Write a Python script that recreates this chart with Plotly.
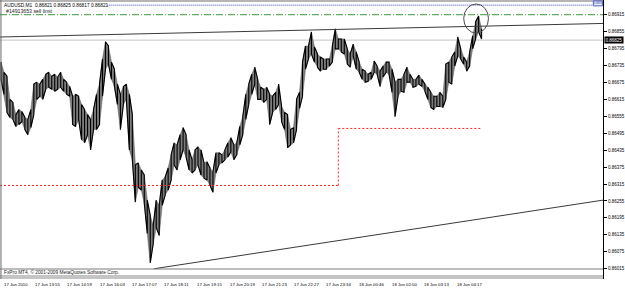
import plotly.graph_objects as go

# ---- price data (AUDUSD M1, sampled bars: high / low) ----
highs = [0.86747, 0.86711, 0.86697, 0.86615, 0.86604, 0.86561, 0.86579, 0.86572, 0.86551, 0.86544,
         0.86579, 0.86669, 0.86676, 0.86669, 0.86686, 0.86704, 0.86711, 0.86697, 0.86704, 0.86694,
         0.86711, 0.86686, 0.86676, 0.86661, 0.86626, 0.86633, 0.86626, 0.86597, 0.86579, 0.86561,
         0.86544, 0.86579, 0.86633, 0.86669, 0.86758, 0.86819, 0.86804, 0.86747, 0.86722, 0.86669,
         0.86633, 0.86661, 0.86669, 0.86633, 0.86561, 0.86383, 0.86390, 0.86365, 0.86347, 0.86258,
         0.86204, 0.86169, 0.86258, 0.86240, 0.86329, 0.86340, 0.86372, 0.86419, 0.86461, 0.86454,
         0.86490, 0.86515, 0.86490, 0.86436, 0.86401, 0.86436, 0.86447, 0.86436, 0.86390, 0.86394,
         0.86372, 0.86358, 0.86426, 0.86426, 0.86419, 0.86436, 0.86461, 0.86479, 0.86454, 0.86461,
         0.86519, 0.86554, 0.86633, 0.86669, 0.86704, 0.86729, 0.86686, 0.86658, 0.86651, 0.86658,
         0.86633, 0.86626, 0.86640, 0.86669, 0.86590, 0.86569, 0.86561, 0.86508, 0.86515, 0.86615,
         0.86640, 0.86747, 0.86804, 0.86804, 0.86854, 0.86801, 0.86776, 0.86765, 0.86758, 0.86758,
         0.86758, 0.86804, 0.86865, 0.86829, 0.86829, 0.86829, 0.86794, 0.86776, 0.86811, 0.86783,
         0.86747, 0.86722, 0.86715, 0.86704, 0.86711, 0.86751, 0.86733, 0.86715, 0.86733, 0.86747,
         0.86747, 0.86722, 0.86676, 0.86686, 0.86686, 0.86704, 0.86729, 0.86704, 0.86686, 0.86686,
         0.86701, 0.86686, 0.86669, 0.86658, 0.86640, 0.86626, 0.86626, 0.86640, 0.86626, 0.86740,
         0.86747, 0.86765, 0.86783, 0.86836, 0.86794, 0.86765, 0.86747, 0.86783, 0.86840, 0.86890,
         0.86910, 0.86865]
lows = [0.86686, 0.86633, 0.86569, 0.86551, 0.86544, 0.86519, 0.86526, 0.86536, 0.86508, 0.86490,
        0.86515, 0.86561, 0.86615, 0.86626, 0.86615, 0.86651, 0.86658, 0.86651, 0.86644, 0.86651,
        0.86658, 0.86644, 0.86633, 0.86626, 0.86526, 0.86519, 0.86544, 0.86472, 0.86461, 0.86490,
        0.86436, 0.86508, 0.86508, 0.86526, 0.86626, 0.86722, 0.86740, 0.86686, 0.86661, 0.86597,
        0.86508, 0.86597, 0.86615, 0.86436, 0.86401, 0.86251, 0.86304, 0.86294, 0.86247, 0.86140,
        0.86036, 0.86104, 0.86161, 0.86133, 0.86240, 0.86276, 0.86294, 0.86329, 0.86383, 0.86365,
        0.86401, 0.86436, 0.86411, 0.86365, 0.86354, 0.86365, 0.86383, 0.86347, 0.86336, 0.86329,
        0.86311, 0.86286, 0.86354, 0.86383, 0.86390, 0.86401, 0.86411, 0.86429, 0.86401, 0.86419,
        0.86454, 0.86490, 0.86544, 0.86597, 0.86633, 0.86669, 0.86615, 0.86615, 0.86604, 0.86615,
        0.86526, 0.86569, 0.86579, 0.86597, 0.86536, 0.86508, 0.86444, 0.86454, 0.86461, 0.86508,
        0.86583, 0.86626, 0.86722, 0.86758, 0.86776, 0.86747, 0.86729, 0.86715, 0.86722, 0.86722,
        0.86733, 0.86747, 0.86794, 0.86794, 0.86783, 0.86776, 0.86740, 0.86729, 0.86769, 0.86722,
        0.86711, 0.86686, 0.86676, 0.86679, 0.86686, 0.86711, 0.86704, 0.86661, 0.86694, 0.86711,
        0.86704, 0.86640, 0.86554, 0.86626, 0.86644, 0.86640, 0.86676, 0.86676, 0.86658, 0.86661,
        0.86669, 0.86661, 0.86644, 0.86615, 0.86586, 0.86579, 0.86590, 0.86590, 0.86586, 0.86615,
        0.86676, 0.86669, 0.86733, 0.86769, 0.86758, 0.86740, 0.86715, 0.86733, 0.86794, 0.86829,
        0.86854, 0.86829]

price_ticks = [0.86015, 0.86075, 0.86135, 0.86195, 0.86255, 0.86315, 0.86375, 0.86435,
               0.86495, 0.86555, 0.86615, 0.86675, 0.86735, 0.86795, 0.86855, 0.86915]
time_labels = ["17 Jun 2010", "17 Jun 13:55", "17 Jun 14:59", "17 Jun 16:03", "17 Jun 17:07",
               "17 Jun 18:11", "17 Jun 19:15", "17 Jun 20:19", "17 Jun 21:23", "17 Jun 22:27",
               "17 Jun 23:34", "18 Jun 00:46", "18 Jun 02:00", "18 Jun 03:13", "18 Jun 04:17"]
time_label_bars = [0.33, 10.67, 21.33, 32.33, 43.33, 54, 65, 76, 86.67, 97.33,
                   108.33, 119.33, 130.33, 141, 152]

header = "AUDUSD,M1  0.86821 0.86825 0.86817 0.86821"
order_label = "#14913653 sell limit"
copyright_text = "FxPro MT4, \u00a9 2001-2009 MetaQuotes Software Corp."

bid = 0.86825
sell_limit = 0.86915
hline_blue = 0.86949
upper_trend = [0.86836, 0.86884]           # price at left edge / right edge
lower_trend = [(51.3, 0.86015), (201.67, 0.86258)]
red_levels = [0.86310, 0.86512]
red_step_bar = 113
red_end_bar = 161
circle_box = [155, 163.3, 0.86850, 0.86953]

X_RANGE = [-0.3333, 201.6667]
Y_RANGE = [0.859786, 0.869671]

bars = list(range(len(highs)))

# zigzag path through bar highs/lows
xs, ys = [], []
for k, (h, l) in enumerate(zip(highs, lows)):
    if k % 2 == 0:
        xs += [k, k]; ys += [h, l]
    else:
        xs += [k, k]; ys += [l, h]

fig = go.Figure()
# bar band (high / low envelope) in grey, bars on top in black
fig.add_trace(go.Scatter(x=bars, y=highs, mode="lines",
                         line=dict(color="#6a6a6a", width=0.6), hoverinfo="skip"))
fig.add_trace(go.Scatter(x=bars, y=lows, mode="lines", fill="tonexty", fillcolor="#7c7c7c",
                         line=dict(color="#6a6a6a", width=0.6), hoverinfo="skip"))
fig.add_trace(go.Scatter(x=xs, y=ys, mode="lines",
                         line=dict(color="#000000", width=1.1), hoverinfo="skip"))

shapes = []
# bid line
shapes.append(dict(type="line", xref="paper", yref="y", x0=0, x1=1, y0=bid, y1=bid,
                   line=dict(color="#c4c4c4", width=1), layer="below"))
# sell limit
shapes.append(dict(type="line", xref="paper", yref="y", x0=0, x1=1, y0=sell_limit, y1=sell_limit,
                   line=dict(color="#3a9a3a", width=1, dash="7px,2px,1px,2px")))
# blue dotted line
shapes.append(dict(type="line", xref="paper", yref="y", x0=0.178, x1=0.983, y0=hline_blue, y1=hline_blue,
                   line=dict(color="#3c46c8", width=1, dash="1px,1px")))
# upper trendline
shapes.append(dict(type="line", xref="paper", yref="y", x0=0, x1=1, y0=upper_trend[0], y1=upper_trend[1],
                   line=dict(color="#3a3a3a", width=1)))
# lower trendline
shapes.append(dict(type="line", xref="x", yref="y", x0=lower_trend[0][0], x1=lower_trend[1][0],
                   y0=lower_trend[0][1], y1=lower_trend[1][1], line=dict(color="#3a3a3a", width=1)))
# red stepped dotted line
shapes.append(dict(type="line", xref="x", yref="y", x0=X_RANGE[0], x1=red_step_bar,
                   y0=red_levels[0], y1=red_levels[0], line=dict(color="#ff2020", width=1, dash="2px,2px")))
shapes.append(dict(type="line", xref="x", yref="y", x0=red_step_bar, x1=red_step_bar,
                   y0=red_levels[0], y1=red_levels[1], line=dict(color="#ff2020", width=1, dash="2px,2px")))
shapes.append(dict(type="line", xref="x", yref="y", x0=red_step_bar, x1=red_end_bar,
                   y0=red_levels[1], y1=red_levels[1], line=dict(color="#ff2020", width=1, dash="2px,2px")))
# circle
shapes.append(dict(type="circle", xref="x", yref="y", x0=circle_box[0], x1=circle_box[1],
                   y0=circle_box[2], y1=circle_box[3], line=dict(color="#4a4a4a", width=1)))
# frame: top & left borders
shapes.append(dict(type="line", xref="paper", yref="paper", x0=0, x1=1, y0=0.9964, y1=0.9964,
                   line=dict(color="#6a6a6a", width=1)))
shapes.append(dict(type="line", xref="paper", yref="paper", x0=0.0016, x1=0.0016, y0=0, y1=1,
                   line=dict(color="#6a6a6a", width=1)))
# bottom band lines
for yy, col in [(0.0358, "#7a7a7a"), (0.0108, "#8a8a8a"), (0.0036, "#8a8a8a")]:
    shapes.append(dict(type="line", xref="paper", yref="paper", x0=0, x1=1, y0=yy, y1=yy,
                       line=dict(color=col, width=1)))
# top-right small box
shapes.append(dict(type="rect", xref="paper", yref="paper", x0=0.984, x1=0.999, y0=0.979, y1=0.997,
                   line=dict(color="#5060c0", width=1), fillcolor="#e8ecff"))

annotations = []
FONT = "Liberation Sans"
annotations.append(dict(xref="paper", yref="paper", x=0, y=1, xanchor="left", yanchor="top",
                        xshift=2, yshift=-1, text=header, showarrow=False,
                        font=dict(family=FONT, size=4.8, color="#000000")))
annotations.append(dict(xref="paper", yref="paper", x=0, y=1, xanchor="left", yanchor="top",
                        xshift=4, yshift=-6, text=order_label, showarrow=False,
                        font=dict(family=FONT, size=5.2, color="#202020")))
annotations.append(dict(xref="paper", yref="paper", x=0, y=0.0233, xanchor="left", yanchor="middle",
                        xshift=2, text=copyright_text, showarrow=False,
                        font=dict(family=FONT, size=4.8, color="#202020")))
for lab, b in zip(time_labels, time_label_bars):
    annotations.append(dict(xref="x", yref="paper", x=b, y=0, xanchor="left", yanchor="top",
                            yshift=-1, text=lab, showarrow=False,
                            font=dict(family=FONT, size=4.3, color="#000000")))
annotations.append(dict(xref="paper", yref="y", x=1, y=bid, xanchor="left", yanchor="middle",
                        xshift=1, text="%.5f" % bid, showarrow=False, bgcolor="#000000",
                        borderpad=0.5, font=dict(family=FONT, size=4.5, color="#ffffff")))
annotations.append(dict(xref="paper", yref="paper", x=0.9915, y=0.988, xanchor="center", yanchor="middle",
                        text="0.8695", showarrow=False,
                        font=dict(family=FONT, size=2.6, color="#3040a0")))

fig.update_layout(
    width=625, height=288, autosize=False,
    margin=dict(l=0, r=19, t=0, b=9),
    paper_bgcolor="#ffffff", plot_bgcolor="#ffffff",
    showlegend=False,
    shapes=shapes, annotations=annotations,
    xaxis=dict(range=X_RANGE, showgrid=False, zeroline=False, showticklabels=False,
               ticks="", showline=False, fixedrange=True),
    yaxis=dict(range=Y_RANGE, side="right", showgrid=False, zeroline=False,
               tickvals=price_ticks, ticktext=["%.5f" % v for v in price_ticks],
               ticks="outside", ticklen=3, tickcolor="#000000", tickwidth=1,
               showline=True, linecolor="#000000", linewidth=1,
               tickfont=dict(family=FONT, size=4.5, color="#000000"), fixedrange=True),
)

fig.write_html("out.html")
